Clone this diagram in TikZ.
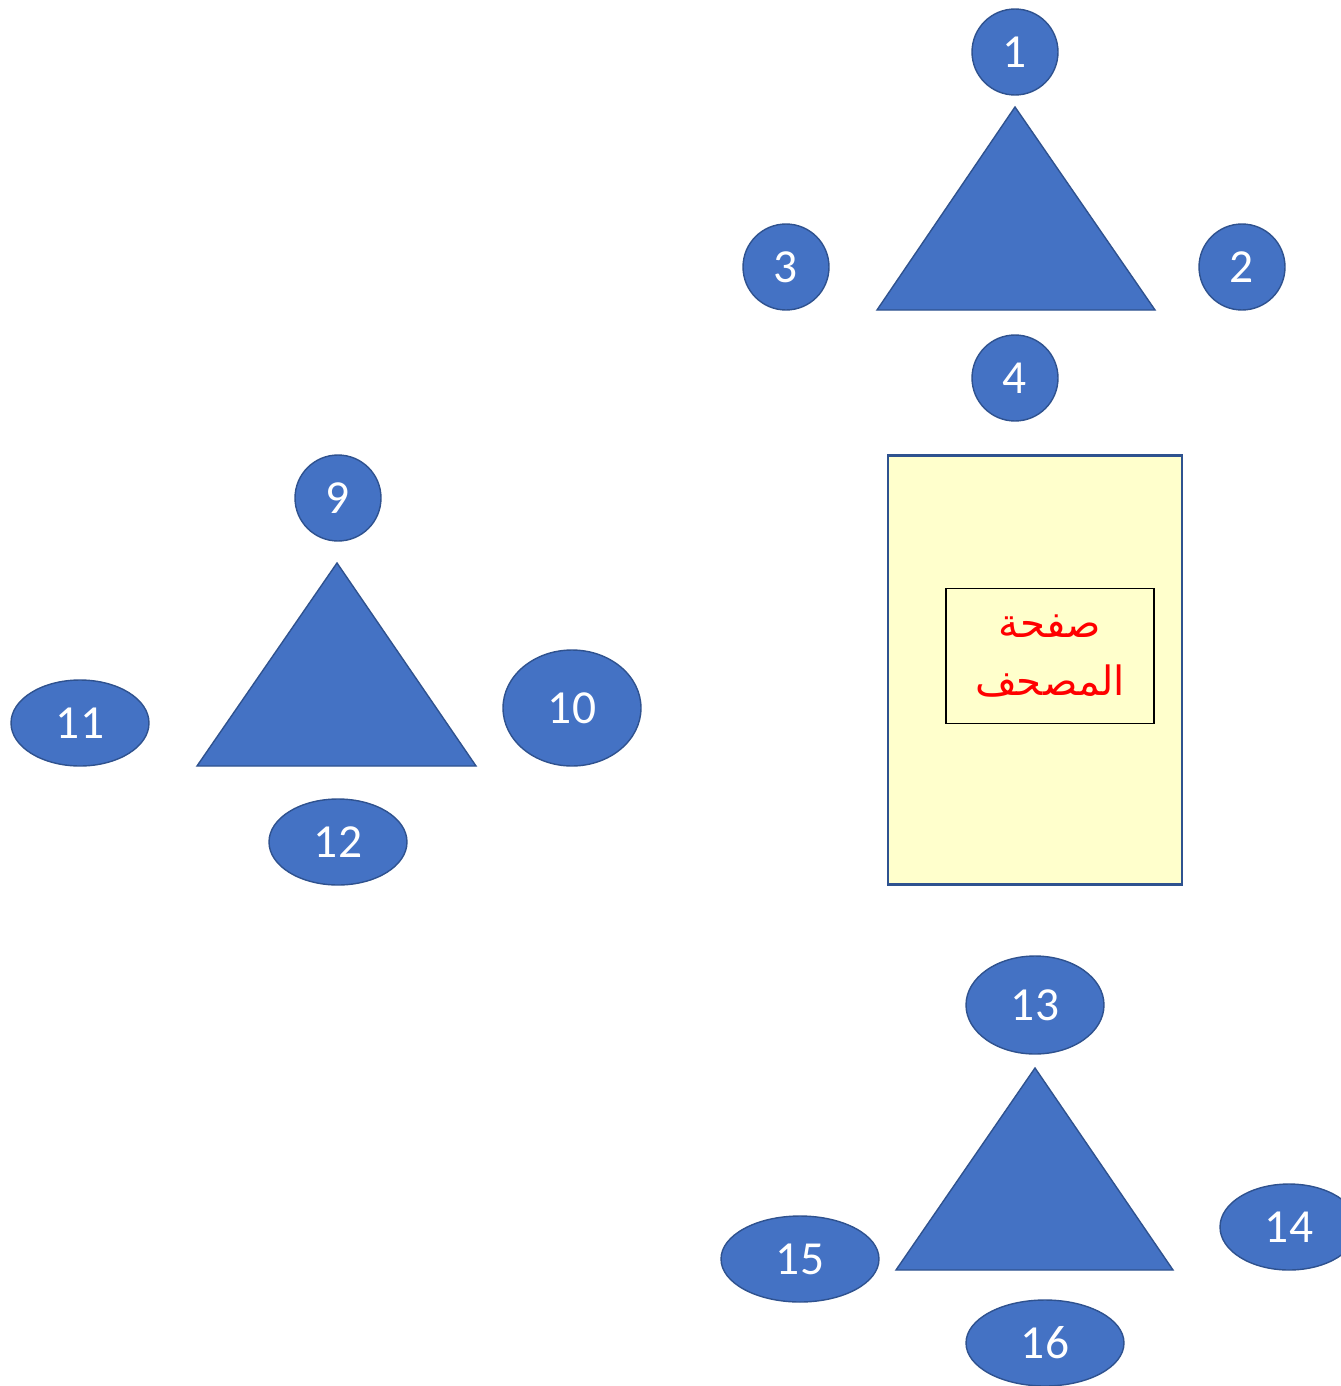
\documentclass[tikz,border=0pt]{standalone}
\usepackage{fontspec}
\setmainfont{Carlito}
\newfontfamily\arabicfont[Script=Arabic]{DejaVu Sans}
\TeXXeTstate=1
\usetikzlibrary{shapes.geometric}
\definecolor{shapeblue}{HTML}{4472C4}
\definecolor{edgeblue}{HTML}{2F528F}
\definecolor{pagecream}{HTML}{FFFFCC}

\begin{document}
\begin{tikzpicture}[x=0.02cm,y=-0.02cm,
% Numbered seats style
    seat/.style={circle,draw=edgeblue,thick,fill=shapeblue,text=white,
		inner sep=0pt,minimum size=1.72cm,font=\fontsize{27}{32}\selectfont},
    seatw/.style={ellipse,draw=edgeblue,thick,fill=shapeblue,text=white,
		inner sep=0pt,minimum width=2.76cm,minimum height=1.72cm,
		font=\fontsize{27}{32}\selectfont},
% Triangle style
    pyr/.style={fill=shapeblue,draw=edgeblue,thick},
% Page style
    page/.style={rectangle,draw=edgeblue,line width=1.2pt,fill=pagecream,
		minimum width=5.88cm,minimum height=8.58cm},
    label box/.style={rectangle,draw=black,thick,text=red,align=center,
		minimum width=4.16cm,minimum height=2.7cm,
		font=\arabicfont\fontsize{23}{33}\selectfont}
    ]
\useasboundingbox (0,0) rectangle (1340,1386);
%% Upper group
	\node (s1) [seat] at (1015,52) {1};
	\node (s2) [seat] at (1242,267) {2};
	\node (s3) [seat] at (786,267) {3};
	\node (s4) [seat] at (1015,378) {4};
	\filldraw [pyr] (1015,107) -- (1155,310) -- (877,310) -- cycle;
%% Page of the mushaf
	\node (pg) [page] at (1035,670) {};
	\node (pgt) [label box] at (1050,656)
		{\beginR صفحة\endR\\\beginR المصحف\endR};
%% Left group
	\node (s9) [seat] at (338,498) {9};
	\node (s10) [seatw,minimum height=2.32cm] at (572,708) {10};
	\node (s11) [seatw] at (80,723) {11};
	\node (s12) [seatw] at (338,842) {12};
	\filldraw [pyr] (337,563) -- (476,766) -- (197,766) -- cycle;
%% Lower group
	\node (s13) [seatw,minimum height=1.96cm] at (1035,1005) {13};
	\node (s14) [seatw] at (1289,1227) {14};
	\node (s15) [seatw,minimum width=3.16cm] at (800,1259) {15};
	\node (s16) [seatw,minimum width=3.16cm] at (1045,1343) {16};
	\filldraw [pyr] (1035,1068) -- (1173,1270) -- (896,1270) -- cycle;

\end{tikzpicture}
\end{document}
